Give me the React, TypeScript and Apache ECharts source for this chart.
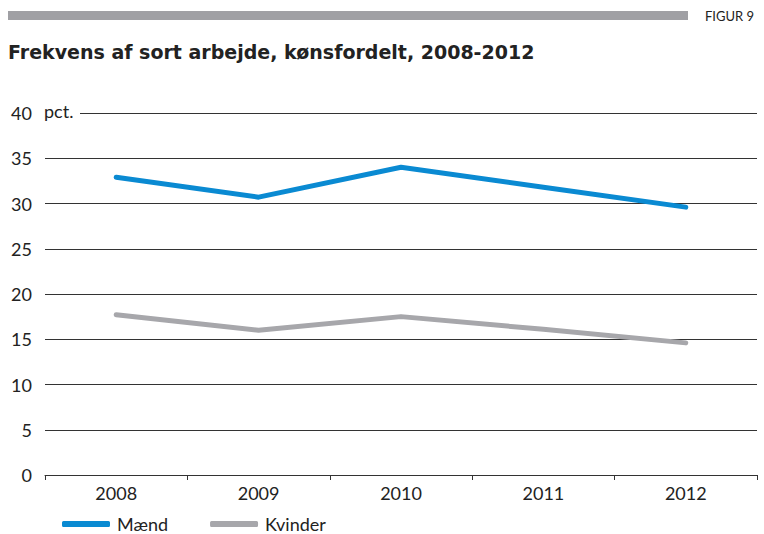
import React, { useEffect, useRef } from "react";
import * as echarts from "echarts";

const categories = ["2008", "2009", "2010", "2011", "2012"];
const maend = [32.9, 30.7, 34.0, 31.8, 29.6];
const kvinder = [17.7, 16.0, 17.5, 16.1, 14.6];
const yTicks = [0, 5, 10, 15, 20, 25, 30, 35, 40];

const FONT = "Lato, 'Open Sans', sans-serif";
const BLUE = "#0a8ad2";
const GREY = "#a7a7ab";

export default function App() {
  const ref = useRef<HTMLDivElement>(null);
  useEffect(() => {
    if (!ref.current) return;
    const chart = echarts.init(ref.current, null, { renderer: "svg" });
    chart.setOption({
      animation: false,
      textStyle: { fontFamily: FONT },
      grid: { left: 45, right: 7, top: 113, bottom: 59, containLabel: false },
      xAxis: {
        type: "category",
        data: categories,
        boundaryGap: true,
        axisLine: { lineStyle: { color: "#333", width: 1 } },
        axisTick: { show: true, length: 5, lineStyle: { color: "#333" } },
        axisLabel: { color: "#222", fontSize: 18, margin: 9, fontFamily: FONT },
      },
      yAxis: {
        type: "value",
        min: yTicks[0],
        max: yTicks[yTicks.length - 1],
        interval: 5,
        axisLine: { show: false },
        axisTick: { show: false },
        axisLabel: { color: "#222", fontSize: 18, margin: 13, fontFamily: FONT },
        splitLine: { lineStyle: { color: "#333", width: 1 } },
      },
      legend: {
        left: 62,
        top: 515,
        padding: 0,
        itemWidth: 48,
        itemHeight: 6,
        itemGap: 42,
        icon: "roundRect",
        textStyle: { fontSize: 18, lineHeight: 18, color: "#222", fontFamily: FONT, padding: [0, 0, 0, 2] },
        data: ["Mænd", "Kvinder"],
      },
      graphic: [
        {
          type: "rect",
          shape: { x: 8, y: 11, width: 680, height: 9 },
          style: { fill: "#a0a0a4" },
        },
        {
          type: "text",
          x: 705,
          y: 9,
          style: { text: "FIGUR 9", fontSize: 13, fill: "#222", fontFamily: FONT },
        },
        {
          type: "text",
          x: 8,
          y: 42,
          style: {
            text: "Frekvens af sort arbejde, kønsfordelt, 2008-2012",
            fontSize: 19,
            fontWeight: "bold",
            fill: "#222",
            fontFamily: "'DejaVu Sans', sans-serif",
          },
        },
        {
          type: "rect",
          shape: { x: 40, y: 104, width: 40, height: 18 },
          style: { fill: "#fff" },
          z: 10,
        },
        {
          type: "text",
          x: 44,
          y: 102,
          z: 11,
          style: { text: "pct.", fontSize: 18, fill: "#222", fontFamily: FONT },
        },
      ],
      series: [
        {
          name: "Mænd",
          type: "line",
          data: maend,
          symbol: "none",
          lineStyle: { color: BLUE, width: 5, cap: "round", join: "round" },
          itemStyle: { color: BLUE },
        },
        {
          name: "Kvinder",
          type: "line",
          data: kvinder,
          symbol: "none",
          lineStyle: { color: GREY, width: 5, cap: "round", join: "round" },
          itemStyle: { color: GREY },
        },
      ],
    });
    return () => chart.dispose();
  }, []);
  return <div ref={ref} style={{ width: 764, height: 534, position: "absolute", left: 0, top: 0 }} />;
}
